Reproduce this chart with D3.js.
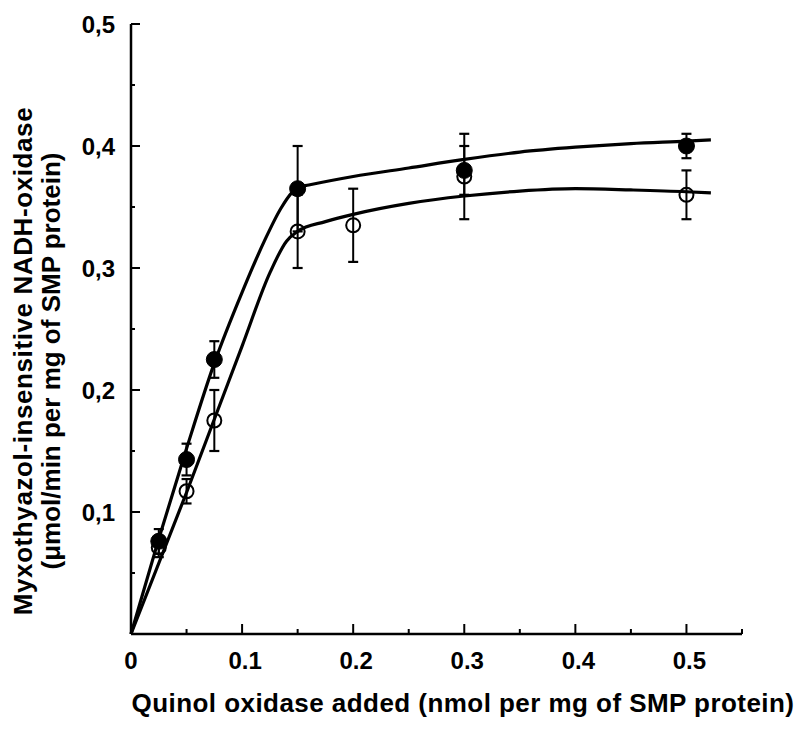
<!DOCTYPE html>
<html>
<head>
<meta charset="utf-8">
<script src="https://cdn.jsdelivr.net/npm/d3@7"></script>
<style>
  body { margin: 0; background: #fff; }
  text { font-family: "Liberation Sans", Arial, sans-serif; font-weight: bold; fill: #000; }
</style>
</head>
<body>
<div id="chart"></div>
<script>
// measured points (x = nmol quinol oxidase / mg SMP protein)
var filledX = [0.025, 0.05, 0.075, 0.15, 0.3, 0.5];
var filledY = [0.076, 0.143, 0.225, 0.365, 0.38, 0.40];
var filledErr = [0.01, 0.013, 0.015, 0.035, 0.02, 0.01];

var openX = [0.025, 0.05, 0.075, 0.15, 0.2, 0.3, 0.5];
var openY = [0.071, 0.117, 0.175, 0.33, 0.335, 0.375, 0.36];
var openErr = [0.008, 0.01, 0.025, 0.03, 0.03, 0.035, 0.02];

// fitted curves
var filledFitX = [0, 0.025, 0.05, 0.075, 0.1, 0.12, 0.135, 0.145, 0.15, 0.16, 0.2, 0.25, 0.3, 0.35, 0.4, 0.45, 0.5, 0.522];
var filledFitY = [0, 0.078, 0.152, 0.222, 0.280, 0.322, 0.349, 0.362, 0.366, 0.368, 0.375, 0.382, 0.389, 0.395, 0.399, 0.402, 0.404, 0.405];
var openFitX = [0, 0.05, 0.075, 0.1, 0.125, 0.14, 0.15, 0.175, 0.2, 0.25, 0.3, 0.35, 0.4, 0.45, 0.5, 0.522];
var openFitY = [0, 0.116, 0.176, 0.236, 0.296, 0.322, 0.33, 0.338, 0.344, 0.353, 0.359, 0.363, 0.365, 0.364, 0.3625, 0.3615];

var xTicks = [0, 0.1, 0.2, 0.3, 0.4, 0.5];
var yTicks = [0.1, 0.2, 0.3, 0.4, 0.5];

var W = 800, H = 729;
var margin = {top: 24, right: 58, bottom: 95, left: 131};
var width = W - margin.left - margin.right,
    height = H - margin.top - margin.bottom;

var svg = d3.select("#chart").append("svg")
    .attr("width", W)
    .attr("height", H)
  .append("g")
    .attr("transform", "translate(" + margin.left + "," + margin.top + ")");

var x = d3.scaleLinear().domain([0, 0.55]).range([0, width]);
var y = d3.scaleLinear().domain([0, 0.5]).range([height, 0]);

// axes: ticks pointing inward, minor ticks every 0.05
var xMinor = d3.range(0, 0.5501, 0.05);
var yMinor = d3.range(0, 0.5001, 0.05);

var xAxis = svg.append("g").attr("transform", "translate(0," + height + ")");
xAxis.append("line").attr("x1", 0).attr("x2", width).attr("stroke", "#000").attr("stroke-width", 2.5);
xAxis.selectAll(".mt").data(xMinor).enter().append("line")
    .attr("x1", function(d) { return x(d); })
    .attr("x2", function(d) { return x(d); })
    .attr("y1", 0)
    .attr("y2", function(d, i) { return i % 2 == 0 ? -10 : -5; })
    .attr("stroke", "#000").attr("stroke-width", 2);
xAxis.selectAll(".lbl").data(xTicks).enter().append("text")
    .attr("x", function(d) { return x(d) + (d === 0 ? 0 : 3); })
    .attr("y", 35)
    .attr("text-anchor", "middle")
    .style("font-size", "24px")
    .text(function(d) { return d === 0 ? "0" : d3.format(".1f")(d); });

var yAxis = svg.append("g");
yAxis.append("line").attr("y1", 0).attr("y2", height).attr("stroke", "#000").attr("stroke-width", 2.5);
yAxis.selectAll(".mt").data(yMinor).enter().append("line")
    .attr("y1", function(d) { return y(d); })
    .attr("y2", function(d) { return y(d); })
    .attr("x1", 0)
    .attr("x2", function(d, i) { return i % 2 == 0 ? 9 : 4; })
    .attr("stroke", "#000").attr("stroke-width", 2);
yAxis.selectAll(".lbl").data(yTicks).enter().append("text")
    .attr("x", -16)
    .attr("y", function(d) { return y(d); })
    .attr("dy", "0.36em")
    .attr("text-anchor", "end")
    .style("font-size", "24px")
    .text(function(d) { return d3.format(".1f")(d).replace(".", ","); });

// axis titles
svg.append("text")
    .attr("x", (795 - margin.left) / 2)
    .attr("y", height + 78)
    .attr("text-anchor", "middle")
    .style("font-size", "26px")
    .style("letter-spacing", "0.45px")
    .text("Quinol oxidase added (nmol per mg of SMP protein)");

var yMid = 361 - margin.top;
svg.append("text")
    .attr("transform", "translate(" + (32 - margin.left) + "," + yMid + ") rotate(-90)")
    .attr("text-anchor", "middle")
    .style("font-size", "26px")
    .style("letter-spacing", "0.6px")
    .text("Myxothyazol-insensitive NADH-oxidase");
svg.append("text")
    .attr("transform", "translate(" + (60 - margin.left) + "," + yMid + ") rotate(-90)")
    .attr("text-anchor", "middle")
    .style("font-size", "26px")
    .text("(\u03bcmol/min per mg of SMP protein)");

// fitted curves
var line = d3.line()
    .x(function(d) { return x(d[0]); })
    .y(function(d) { return y(d[1]); })
    .curve(d3.curveMonotoneX);

svg.append("path")
    .datum(d3.zip(filledFitX, filledFitY))
    .attr("d", line)
    .attr("fill", "none").attr("stroke", "#000").attr("stroke-width", 3.2);
svg.append("path")
    .datum(d3.zip(openFitX, openFitY))
    .attr("d", line)
    .attr("fill", "none").attr("stroke", "#000").attr("stroke-width", 3.2);

// error bars + markers
function drawSeries(xs, ys, errs, filled) {
    var pts = d3.zip(xs, ys, errs);
    var g = svg.append("g");
    var eb = g.selectAll(".eb").data(pts).enter().append("g");
    eb.append("line")
        .attr("x1", function(d) { return x(d[0]); })
        .attr("x2", function(d) { return x(d[0]); })
        .attr("y1", function(d) { return y(d[1] + d[2]); })
        .attr("y2", function(d) { return y(d[1] - d[2]); })
        .attr("stroke", "#000").attr("stroke-width", 2);
    [1, -1].forEach(function(s) {
        eb.append("line")
            .attr("x1", function(d) { return x(d[0]) - 5; })
            .attr("x2", function(d) { return x(d[0]) + 5; })
            .attr("y1", function(d) { return y(d[1] + s * d[2]); })
            .attr("y2", function(d) { return y(d[1] + s * d[2]); })
            .attr("stroke", "#000").attr("stroke-width", 2.2);
    });
    g.selectAll("circle").data(pts).enter().append("circle")
        .attr("cx", function(d) { return x(d[0]); })
        .attr("cy", function(d) { return y(d[1]); })
        .attr("r", filled ? 8 : 7)
        .attr("fill", filled ? "#000" : "#fff")
        .attr("fill-opacity", filled ? 1 : 0)
        .attr("stroke", "#000")
        .attr("stroke-width", filled ? 1 : 2);
}
drawSeries(openX, openY, openErr, false);
drawSeries(filledX, filledY, filledErr, true);
</script>
</body>
</html>
